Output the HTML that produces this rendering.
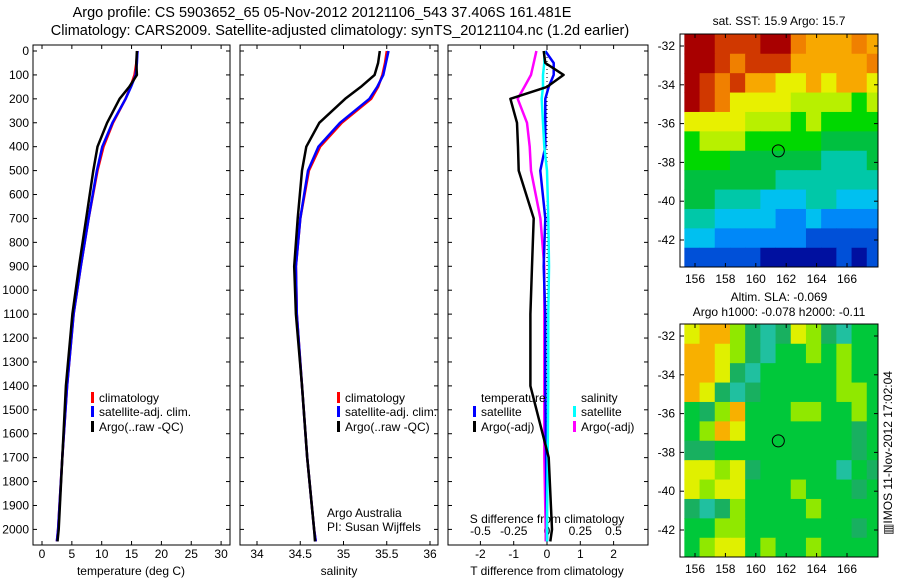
<!DOCTYPE html>
<html><head><meta charset="utf-8"><style>
body{margin:0;background:#fff}
svg{display:block;font-family:"Liberation Sans",sans-serif}
</style></head><body>
<svg id="s" width="900" height="580" xmlns="http://www.w3.org/2000/svg">
<rect width="900" height="580" fill="#fff"/>
<text x="322" y="17" font-size="14.5" text-anchor="middle">Argo profile: CS 5903652_65 05-Nov-2012 20121106_543 37.406S 161.481E</text>
<text x="340" y="35" font-size="14.5" text-anchor="middle">Climatology: CARS2009. Satellite-adjusted climatology: synTS_20121104.nc (1.2d earlier)</text>
<g id="g"></g>
</svg>
<script>
// ---- data ----
const depths      = [0, 50, 100, 150, 200, 300, 400, 500, 700, 900, 1100, 1400, 1700, 2000, 2050];
const tempClim    = [16.0, 15.8, 15.5, 14.8, 14.0, 11.9, 10.3, 9.3, 7.8, 6.5, 5.3, 4.2, 3.4, 2.7, 2.5];
const tempSat     = [16.0, 15.9, 15.7, 14.9, 14.0, 11.8, 10.1, 9.2, 7.8, 6.5, 5.3, 4.2, 3.4, 2.7, 2.5];
const tempArgo    = [15.9, 15.8, 15.9, 14.6, 13.0, 10.9, 9.3, 8.6, 7.4, 6.2, 5.1, 4.0, 3.4, 2.8, 2.6];
const salClim     = [35.50, 35.48, 35.45, 35.40, 35.32, 34.98, 34.73, 34.60, 34.50, 34.45, 34.46, 34.52, 34.58, 34.66, 34.68];
const salSat      = [35.52, 35.49, 35.46, 35.39, 35.30, 34.96, 34.71, 34.59, 34.50, 34.45, 34.46, 34.52, 34.58, 34.66, 34.68];
const salArgo     = [35.42, 35.40, 35.36, 35.20, 35.02, 34.72, 34.57, 34.52, 34.47, 34.43, 34.45, 34.52, 34.58, 34.66, 34.67];
const tDiffSat    = [-0.05, 0.2, 0.2, 0.05, -0.05, -0.05, -0.05, -0.2, -0.05, -0.1, -0.05, -0.05, -0.03, 0.0, 0.0];
const tDiffArgo   = [-0.1, -0.05, 0.5, 0.0, -1.1, -0.9, -0.87, -0.85, -0.4, -0.45, -0.5, -0.5, 0.05, 0.15, 0.1];
const sDiffSat    = [-0.02, -0.02, -0.03, -0.03, -0.04, -0.03, -0.02, 0.0, 0.01, 0.015, 0.01, 0.01, 0.005, 0.0, 0.0];
const sDiffArgo   = [-0.08, -0.1, -0.12, -0.17, -0.22, -0.15, -0.13, -0.12, -0.05, -0.02, -0.02, -0.02, -0.02, -0.01, -0.01];
const depthTicks  = [0,100,200,300,400,500,600,700,800,900,1000,1100,1200,1300,1400,1500,1600,1700,1800,1900,2000];
const tempTicks   = [0,5,10,15,20,25,30];
const salTicks    = [34,34.5,35,35.5,36];
const tdTicks     = [-2,-1,0,1,2];
const sdTicks     = [-0.5,-0.25,0,0.25,0.5];
const sdTickLabels= ["-0.5","-0.25","0","0.25","0.5"];
const lonTicks    = [156,158,160,162,164,166];
const latTicks    = [-32,-34,-36,-38,-40,-42];
const sstGrid = ["RRrrrRRoOOOoO","RRrorrrOOOOOo","RrorOOyyOyOOy","RroyyyyYYYYgY","yyyyYYYgYgggg","gYYYgggggGGGG","gggGGGGGGtttG","GGGGGGttttttt","GGtttcccttccc","ttccccbbcbbbb","ccbbbbbbBBBBB","BBBBBNNNNNBNB"];
const slaGrid = ["yoolGtGylGtgg","ooylGtgglglgg","ooyGtggggglgg","oyGtGgggggllg","gGlogggllgglg","gloygggggggGg","GGgggggggggGg","yylyGgggggtgG","ylyyggglgggGg","GtGlgggglgggg","ggllgggggggGg","glyyglgglgggg"];
const floatLon = 161.481, floatLat = -37.406;

// ---- axes ----
const Y = d => 51 + d * 0.2392;
const XT = t => 42 + t * 5.97;
const XS = s => 257 + (s - 34) * 86.5;
const XTD = t => 547 + t * 33.3;
const XSD = s => 547 + s * 133;
const LON = l => 695 + (l - 156) * 15.2;
const LAT = (la, top) => top + (-32 - la) * 19.4;

const NS = "http://www.w3.org/2000/svg";
const g = document.getElementById('g');
function el(tag, attrs, parent) {
  const e = document.createElementNS(NS, tag);
  for (const k in attrs) e.setAttribute(k, attrs[k]);
  (parent || g).appendChild(e);
  return e;
}
function txt(x, y, s, anchor, size, parent) {
  const t = el('text', {x: x, y: y, 'font-size': size || 12, 'text-anchor': anchor || 'middle'}, parent);
  t.textContent = s;
  return t;
}

const panels = [[33, 230], [240, 438], [448, 648]];
const PT = 45, PB = 545;
panels.forEach((p, i) => {
  const r = el('rect', {x: p[0], y: PT, width: p[1] - p[0], height: PB - PT, fill: 'none', stroke: '#000', 'stroke-width': 1});
  
  
  depthTicks.forEach(d => {
    el('line', {x1: p[0], x2: p[0] + 4, y1: Y(d), y2: Y(d), stroke: '#000'});
    el('line', {x1: p[1], x2: p[1] - 4, y1: Y(d), y2: Y(d), stroke: '#000'});
  });
});
depthTicks.forEach(d => {
  const t = txt(29, Y(d) + 4, String(d), 'end', 12);
  
  
});
function xTicks(vals, fx, labels, ly) {
  vals.forEach((v, i) => {
    el('line', {x1: fx(v), x2: fx(v), y1: PB, y2: PB - 4, stroke: '#000'});
    el('line', {x1: fx(v), x2: fx(v), y1: PT, y2: PT + 4, stroke: '#000'});
    const t = txt(fx(v), ly, labels ? labels[i] : String(v), 'middle', 12);
    
    
  });
}
xTicks(tempTicks, XT, null, 558);
xTicks(salTicks, XS, null, 558);
xTicks(tdTicks, XTD, null, 558);
sdTicks.forEach((v, i) => {
  const t = txt(XSD(v), 535, sdTickLabels[i], 'middle', 12);
  
  
});
[[131, 'temperature (deg C)', 'x-axis-title-temperature'], [339, 'salinity', 'x-axis-title-salinity'], [547, 'T difference from climatology', 'x-axis-title-t-diff']].forEach(a => {
  const t = txt(a[0], 575, a[1], 'middle', 12);
  
  
});
const sdt = txt(547, 523, 'S difference from climatology', 'middle', 12);


const dz = el('line', {x1: 547, x2: 547, y1: PT, y2: PB, stroke: '#000', 'stroke-dasharray': '1,3'});



function series(vals, fx, color, name) {
  const pts = vals.map((v, i) => fx(v).toFixed(1) + ',' + Y(depths[i]).toFixed(1)).join(' ');
  const pl = el('polyline', {points: pts, fill: 'none', stroke: color, 'stroke-width': 2.5, 'stroke-linejoin': 'round'});
  
  
}
series(tempClim, XT, '#f00', 'temp-climatology-line');
series(tempSat, XT, '#00f', 'temp-satellite-line');
series(tempArgo, XT, '#000', 'temp-argo-line');
series(salClim, XS, '#f00', 'sal-climatology-line');
series(salSat, XS, '#00f', 'sal-satellite-line');
series(salArgo, XS, '#000', 'sal-argo-line');
series(sDiffArgo, XSD, '#f0f', 's-diff-argo-line');
series(tDiffSat, XTD, '#00f', 't-diff-satellite-line');
series(sDiffSat, XSD, '#0ff', 's-diff-satellite-line');
series(tDiffArgo, XTD, '#000', 't-diff-argo-line');

function legendEntry(x, y, color, label, name) {
  const grp = el('g', {});
  
  
  if (color) el('rect', {x: x - 8, y: y - 10, width: 3, height: 11, fill: color}, grp);
  txt(x, y, label, 'start', 12, grp);
}
[[92], [338]].forEach((c, i) => {
  legendEntry(c[0] + 7, 402, '#f00', 'climatology', 'legend-climatology-' + (i + 1));
  legendEntry(c[0] + 7, 416, '#00f', 'satellite-adj. clim.', 'legend-satellite-' + (i + 1));
  legendEntry(c[0] + 7, 431, '#000', 'Argo(..raw -QC)', 'legend-argo-' + (i + 1));
});
legendEntry(481, 402, null, 'temperature', 'legend-temperature-heading');
legendEntry(481, 416, '#00f', 'satellite', 'legend-t-satellite');
legendEntry(481, 431, '#000', 'Argo(-adj)', 'legend-t-argo');
legendEntry(581, 402, null, 'salinity', 'legend-salinity-heading');
legendEntry(581, 416, '#0ff', 'satellite', 'legend-s-satellite');
legendEntry(581, 431, '#f0f', 'Argo(-adj)', 'legend-s-argo');
const a1 = txt(327, 517, 'Argo Australia', 'start', 12);  
const a2 = txt(327, 531, 'PI: Susan Wijffels', 'start', 12);  

// ---- maps ----
const sstCol = {R:'#a80000',r:'#d03800',o:'#f08000',O:'#f8a800',y:'#e8f000',Y:'#b8f000',g:'#00d800',G:'#00c040',t:'#00c8a8',c:'#00c0f0',b:'#0088f8',B:'#0050d8',N:'#0010a0'};
const slaCol = {y:'#e0f000',o:'#f8b000',l:'#90e800',g:'#00c83a',G:'#18b060',t:'#20c0a0'};
function drawMap(top, grid, cols, name) {
  const mg = el('g', {});
  
  
  const x0 = 680, x1 = 878, bottom = top + 233;
  grid.forEach((row, ri) => {
    for (let ci = 0; ci < row.length; ci++) {
      const lon0 = 155.3 + ci, la0 = -31.4 - ri;
      const xa = Math.max(x0, LON(lon0)), xb = Math.min(x1, LON(lon0 + 1));
      const ya = Math.max(top, LAT(la0, top + 12)), yb = Math.min(bottom, LAT(la0 - 1, top + 12));
      el('rect', {x: xa, y: ya, width: xb - xa + 0.5, height: yb - ya + 0.5, fill: cols[row[ci]]}, mg);
    }
  });
  el('rect', {x: x0, y: top, width: x1 - x0, height: 233, fill: 'none', stroke: '#000'}, mg);
  lonTicks.forEach(l => {
    el('line', {x1: LON(l), x2: LON(l), y1: bottom, y2: bottom - 4, stroke: '#000'}, mg);
    el('line', {x1: LON(l), x2: LON(l), y1: top, y2: top + 4, stroke: '#000'}, mg);
    txt(LON(l), bottom + 16, String(l), 'middle', 12, mg);
  });
  latTicks.forEach(la => {
    const yy = LAT(la, top + 12);
    el('line', {x1: x0, x2: x0 + 4, y1: yy, y2: yy, stroke: '#000'}, mg);
    el('line', {x1: x1, x2: x1 - 4, y1: yy, y2: yy, stroke: '#000'}, mg);
    txt(x0 - 5, yy + 4, String(la), 'end', 12, mg);
  });
  const c = el('circle', {cx: LON(floatLon), cy: LAT(floatLat, top + 12), r: 6, fill: 'none', stroke: '#000'}, mg);
  
  
}
drawMap(34, sstGrid, sstCol, 'sst-map');
drawMap(324, slaGrid, slaCol, 'sla-map');
const m1 = txt(779, 25, 'sat. SST: 15.9 Argo: 15.7', 'middle', 12);  
const m2 = txt(779, 301, 'Altim. SLA: -0.069', 'middle', 12);  
const m3 = txt(779, 316, 'Argo h1000: -0.078 h2000: -0.11', 'middle', 12);  
const im = txt(0, 0, '\u25A5IMOS 11-Nov-2012 17:02:04', 'middle', 12);
im.setAttribute('transform', 'translate(892,453) rotate(-90)');


</script>
</body></html>
